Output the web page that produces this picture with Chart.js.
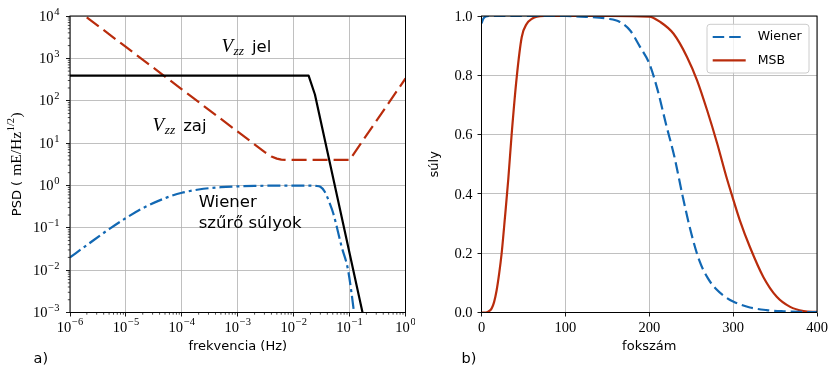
<!DOCTYPE html>
<html>
<head>
<meta charset="utf-8">
<script src="https://cdn.jsdelivr.net/npm/chart.js@4/dist/chart.umd.min.js"></script>
<style>
  html, body { margin: 0; padding: 0; background: #fff; }
  #wrap { position: relative; width: 830px; height: 367px; }
  .panel { position: absolute; top: 0; width: 415px; height: 367px; }
  canvas { display: block; }
</style>
</head>
<body>
<div id="wrap">
  <div class="panel" style="left:0"><canvas id="psd" width="415" height="367" style="width:415px;height:367px"></canvas></div>
  <div class="panel" style="left:415px"><canvas id="weights" width="415" height="367" style="width:415px;height:367px"></canvas></div>
</div>
<script>
// ---- a) spectral densities (mE/Hz^1/2) and Wiener gain versus frequency (Hz)
const signalFreq = [1e-6, 0.0185, 0.024, 0.2];
const signalPsd  = [390, 390, 140, 3.8e-4];

const noiseFreq = [1e-6, 1e-5, 1e-4, 1e-3, 3e-3, 4e-3, 5e-3, 6e-3, 8e-3, 0.1, 1];
const noisePsd  = [18600, 1860, 186, 18.6, 6.2, 4.8, 4.3, 4.08, 4.0, 4.0, 335];

const wienerFreq = [1e-6, 2e-6, 5e-6, 1e-5, 2e-5, 5e-5, 1e-4, 2e-4, 5e-4, 1e-3, 2e-3, 5e-3,
                    1e-2, 0.02, 0.025, 0.03, 0.036, 0.044, 0.051, 0.072, 0.094, 0.12, 0.13];
const wienerGain = [0.02, 0.039, 0.093, 0.17, 0.29, 0.5, 0.67, 0.8, 0.91, 0.95, 0.975, 0.988,
                    0.99, 0.99, 0.975, 0.93, 0.71, 0.38, 0.22, 0.036, 0.01, 0.001, 0.0004];

const freqTickExp = [-6, -5, -4, -3, -2, -1, 0];
const psdTickExp  = [-3, -2, -1, 0, 1, 2, 3, 4];

// ---- b) weights versus coefficient index
const wienerIdx = [0, 2, 5, 10, 50, 100, 125, 150, 165, 177, 189, 200, 210, 220, 230, 240, 250,
                   260, 270, 280, 290, 300, 320, 340, 360, 380, 400];
const wienerW   = [0.975, 0.99, 0.998, 1.0, 1.0, 1.0, 0.997, 0.991, 0.98, 0.952, 0.896, 0.84, 0.75,
                   0.635, 0.525, 0.39, 0.268, 0.173, 0.115, 0.078, 0.054, 0.037, 0.017, 0.008, 0.004, 0.002, 0.001];

const msbIdx = [0, 5, 8, 12, 15, 18, 21, 24, 28, 32, 36, 42, 48, 54, 60, 66, 75, 100, 150, 200,
                213, 229, 245, 257, 269, 281, 292, 298, 308, 320, 336, 352, 368, 384, 400];
const msbW   = [0, 0, 0.003, 0.013, 0.035, 0.074, 0.13, 0.199, 0.322, 0.452, 0.603, 0.794, 0.929,
                0.974, 0.99, 0.998, 1, 1, 1, 0.998, 0.98, 0.94, 0.862, 0.783, 0.682, 0.57, 0.457,
                0.401, 0.311, 0.221, 0.12, 0.053, 0.019, 0.005, 0.002];

const idxTicks = [0, 100, 200, 300, 400];
const wTicks   = [0, 0.2, 0.4, 0.6, 0.8, 1.0];

// ---- styling
const BLUE = '#1268b3';
const RED  = '#b92c0c';
const GRID = '#b0b0b0';
const SANS  = '"DejaVu Sans", sans-serif';
const SERIF = '"Liberation Serif", "DejaVu Serif", serif';
const TICK_FONT = 14.5;

const pts = (xs, ys) => xs.map((x, i) => ({ x, y: ys[i] }));
const pow10 = e => Number('1e' + e);

function frame(ctx, a) {
  ctx.save();
  ctx.strokeStyle = '#000';
  ctx.lineWidth = 1;
  ctx.strokeRect(a.left, a.top, a.right - a.left, a.bottom - a.top);
  ctx.restore();
}

// "10" with a raised exponent; align: 'center' or 'right'; y is the baseline
function drawPow(ctx, x, y, exp, align) {
  const sup = exp < 0 ? '\u2212' + (-exp) : String(exp);
  ctx.font = TICK_FONT + 'px ' + SERIF;
  const wb = ctx.measureText('10').width;
  ctx.font = '10.5px ' + SERIF;
  const ws = ctx.measureText(sup).width;
  const w = wb + 0.8 + ws;
  const x0 = align === 'center' ? x - w / 2 : x - w;
  ctx.textAlign = 'left';
  ctx.textBaseline = 'alphabetic';
  ctx.font = TICK_FONT + 'px ' + SERIF;
  ctx.fillText('10', x0, y);
  ctx.font = '10.5px ' + SERIF;
  ctx.fillText(sup, x0 + wb + 0.8, y - 6.2);
}

// a run of text pieces with their own fonts and vertical offsets
function drawRuns(ctx, x, y, runs, align) {
  let total = 0;
  runs.forEach(r => { ctx.font = r.font; r.w = ctx.measureText(r.text).width; total += r.w + (r.gap || 0); });
  let cx = align === 'center' ? x - total / 2 : x;
  ctx.textAlign = 'left';
  ctx.textBaseline = 'alphabetic';
  runs.forEach(r => {
    ctx.font = r.font;
    ctx.fillText(r.text, cx, y + (r.dy || 0));
    cx += r.w + (r.gap || 0);
  });
}

function vzz(ctx, x, y, word) {
  drawRuns(ctx, x, y, [
    { text: 'V', font: 'italic 19px ' + SERIF, gap: 0.5 },
    { text: 'zz', font: 'italic 13.5px ' + SERIF, dy: 3, gap: 8 },
    { text: word, font: '16.5px ' + SANS }
  ], 'left');
}

const psdDecor = {
  id: 'psdDecor',
  afterDatasetsDraw(chart) {
    const { ctx, chartArea: a } = chart;
    const xs = chart.scales.x, ys = chart.scales.y;
    ctx.save();
    frame(ctx, a);

    // minor ticks on the log axes
    ctx.strokeStyle = '#000';
    ctx.lineWidth = 0.7;
    ctx.beginPath();
    for (let e = freqTickExp[0]; e < freqTickExp[freqTickExp.length - 1]; e++) {
      for (let k = 2; k <= 9; k++) {
        const px = xs.getPixelForValue(k * pow10(e));
        ctx.moveTo(px, a.bottom); ctx.lineTo(px, a.bottom + 2.2);
      }
    }
    for (let e = psdTickExp[0]; e < psdTickExp[psdTickExp.length - 1]; e++) {
      for (let k = 2; k <= 9; k++) {
        const py = ys.getPixelForValue(k * pow10(e));
        ctx.moveTo(a.left, py); ctx.lineTo(a.left - 2.2, py);
      }
    }
    ctx.stroke();

    // tick labels
    ctx.fillStyle = '#000';
    freqTickExp.forEach(e => drawPow(ctx, xs.getPixelForValue(pow10(e)), a.bottom + 19, e, 'center'));
    psdTickExp.forEach(e => drawPow(ctx, a.left - 10.5, ys.getPixelForValue(pow10(e)) + 4.7, e, 'right'));

    // axis titles
    ctx.font = '13px ' + SANS;
    ctx.textAlign = 'center';
    ctx.textBaseline = 'alphabetic';
    ctx.fillText('frekvencia (Hz)', (a.left + a.right) / 2, 350);

    ctx.save();
    ctx.translate(20.5, (a.top + a.bottom) / 2);
    ctx.rotate(-Math.PI / 2);
    drawRuns(ctx, 0, 0, [
      { text: 'PSD ( ', font: '13px ' + SANS, gap: 1 },
      { text: 'mE/Hz', font: '15.5px ' + SERIF, gap: 0.5 },
      { text: '1/2', font: '10.5px ' + SERIF, dy: -6.5, gap: 0.5 },
      { text: ')', font: '15.5px ' + SERIF }
    ], 'center');
    ctx.restore();

    // curve annotations
    vzz(ctx, xs.getPixelForValue(5.1e-4), ys.getPixelForValue(1400), 'jel');
    vzz(ctx, xs.getPixelForValue(3.0e-5), ys.getPixelForValue(19), 'zaj');
    ctx.font = '16.5px ' + SANS;
    ctx.textAlign = 'left';
    ctx.fillText('Wiener', xs.getPixelForValue(2.0e-4), ys.getPixelForValue(0.313));
    ctx.fillText('szűrő súlyok', xs.getPixelForValue(2.0e-4), ys.getPixelForValue(0.097));

    // panel letter
    ctx.font = '14.5px ' + SANS;
    ctx.fillText('a)', 33.5, 363);
    ctx.restore();
  }
};

const weightDecor = {
  id: 'weightDecor',
  afterDatasetsDraw(chart) {
    const { ctx, chartArea: a } = chart;
    const xs = chart.scales.x, ys = chart.scales.y;
    ctx.save();
    frame(ctx, a);

    // tick labels from the scales' own ticks
    ctx.fillStyle = '#000';
    ctx.font = TICK_FONT + 'px ' + SERIF;
    ctx.textBaseline = 'alphabetic';
    ctx.textAlign = 'center';
    xs.ticks.forEach(t => ctx.fillText(t.label, xs.getPixelForValue(t.value), a.bottom + 19));
    ctx.textAlign = 'right';
    ys.ticks.forEach(t => ctx.fillText(t.label, a.left - 9, ys.getPixelForValue(t.value) + 4.7));

    // axis titles
    ctx.font = '13px ' + SANS;
    ctx.textAlign = 'center';
    ctx.fillText('fokszám', (a.left + a.right) / 2, 350);
    ctx.save();
    ctx.translate(22.5, (a.top + a.bottom) / 2);
    ctx.rotate(-Math.PI / 2);
    ctx.fillText('súly', 0, 0);
    ctx.restore();

    // legend
    const bw = 102, bh = 48.7;
    const bx = a.right - 8 - bw, by = a.top + 8.3;
    ctx.beginPath();
    ctx.roundRect(bx, by, bw, bh, 3);
    ctx.fillStyle = 'rgba(255,255,255,0.8)';
    ctx.fill();
    ctx.strokeStyle = '#cccccc';
    ctx.lineWidth = 1;
    ctx.stroke();
    chart.data.datasets.forEach((ds, i) => {
      const ry = by + 12.7 + i * 23.3;
      ctx.save();
      ctx.strokeStyle = ds.borderColor;
      ctx.lineWidth = ds.borderWidth;
      ctx.setLineDash(ds.borderDash || []);
      ctx.beginPath();
      ctx.moveTo(bx + 5.7, ry);
      ctx.lineTo(bx + 38.7, ry);
      ctx.stroke();
      ctx.restore();
      ctx.fillStyle = '#000';
      ctx.font = '12.5px ' + SANS;
      ctx.textAlign = 'left';
      ctx.textBaseline = 'middle';
      ctx.fillText(ds.label, bx + 50.7, ry);
    });

    ctx.textBaseline = 'alphabetic';
    ctx.fillStyle = '#000';
    ctx.font = '14.5px ' + SANS;
    ctx.textAlign = 'left';
    ctx.fillText('b)', 46.5, 363);
    ctx.restore();
  }
};

const gridOpts = { color: GRID, lineWidth: 0.8, tickLength: 4, tickColor: '#000', tickWidth: 0.9 };

new Chart(document.getElementById('psd'), {
  type: 'line',
  data: {
    datasets: [
      { label: 'jel', data: pts(signalFreq, signalPsd), borderColor: '#000', borderWidth: 2.2, tension: 0, clip: 0 },
      { label: 'zaj', data: pts(noiseFreq, noisePsd), borderColor: RED, borderWidth: 2.2, borderDash: [15, 6], tension: 0, clip: 0 },
      { label: 'Wiener', data: pts(wienerFreq, wienerGain), borderColor: BLUE, borderWidth: 2.2,
        borderDash: [13, 4, 3, 4], cubicInterpolationMode: 'monotone', clip: 0 }
    ]
  },
  options: {
    responsive: false,
    animation: false,
    events: [],
    layout: { padding: { top: 16, right: 9.5, left: 0, bottom: 0 } },
    elements: { point: { radius: 0 }, line: { borderCapStyle: 'butt', borderJoinStyle: 'round', fill: false } },
    plugins: { legend: { display: false }, tooltip: { enabled: false } },
    scales: {
      x: {
        type: 'logarithmic', min: 1e-6, max: 1,
        afterBuildTicks: s => { s.ticks = freqTickExp.map(e => ({ value: pow10(e), major: true })); },
        ticks: { display: false },
        grid: gridOpts,
        border: { display: false },
        afterFit: s => { s.height = 367 - 312.5; }
      },
      y: {
        type: 'logarithmic', min: 1e-3, max: 1e4,
        afterBuildTicks: s => { s.ticks = psdTickExp.map(e => ({ value: pow10(e), major: true })); },
        ticks: { display: false },
        grid: gridOpts,
        border: { display: false },
        afterFit: s => { s.width = 70; }
      }
    }
  },
  plugins: [psdDecor]
});

new Chart(document.getElementById('weights'), {
  type: 'line',
  data: {
    datasets: [
      { label: 'Wiener', data: pts(wienerIdx, wienerW), borderColor: BLUE, borderWidth: 2.2,
        borderDash: [11.5, 5], cubicInterpolationMode: 'monotone', clip: 0 },
      { label: 'MSB', data: pts(msbIdx, msbW), borderColor: RED, borderWidth: 2.2,
        cubicInterpolationMode: 'monotone', clip: 0 }
    ]
  },
  options: {
    responsive: false,
    animation: false,
    events: [],
    layout: { padding: { top: 16, right: 13, left: 0, bottom: 0 } },
    elements: { point: { radius: 0 }, line: { borderCapStyle: 'butt', borderJoinStyle: 'round', fill: false } },
    plugins: { legend: { display: false }, tooltip: { enabled: false } },
    scales: {
      x: {
        type: 'linear', min: 0, max: 400,
        afterBuildTicks: s => { s.ticks = idxTicks.map(v => ({ value: v })); },
        ticks: { display: false, callback: v => String(v) },
        grid: gridOpts,
        border: { display: false },
        afterFit: s => { s.height = 367 - 312.5; }
      },
      y: {
        type: 'linear', min: 0, max: 1,
        afterBuildTicks: s => { s.ticks = wTicks.map(v => ({ value: v })); },
        ticks: { display: false, callback: v => Number(v).toFixed(1) },
        grid: gridOpts,
        border: { display: false },
        afterFit: s => { s.width = 66.5; }
      }
    }
  },
  plugins: [weightDecor]
});
</script>
</body>
</html>
